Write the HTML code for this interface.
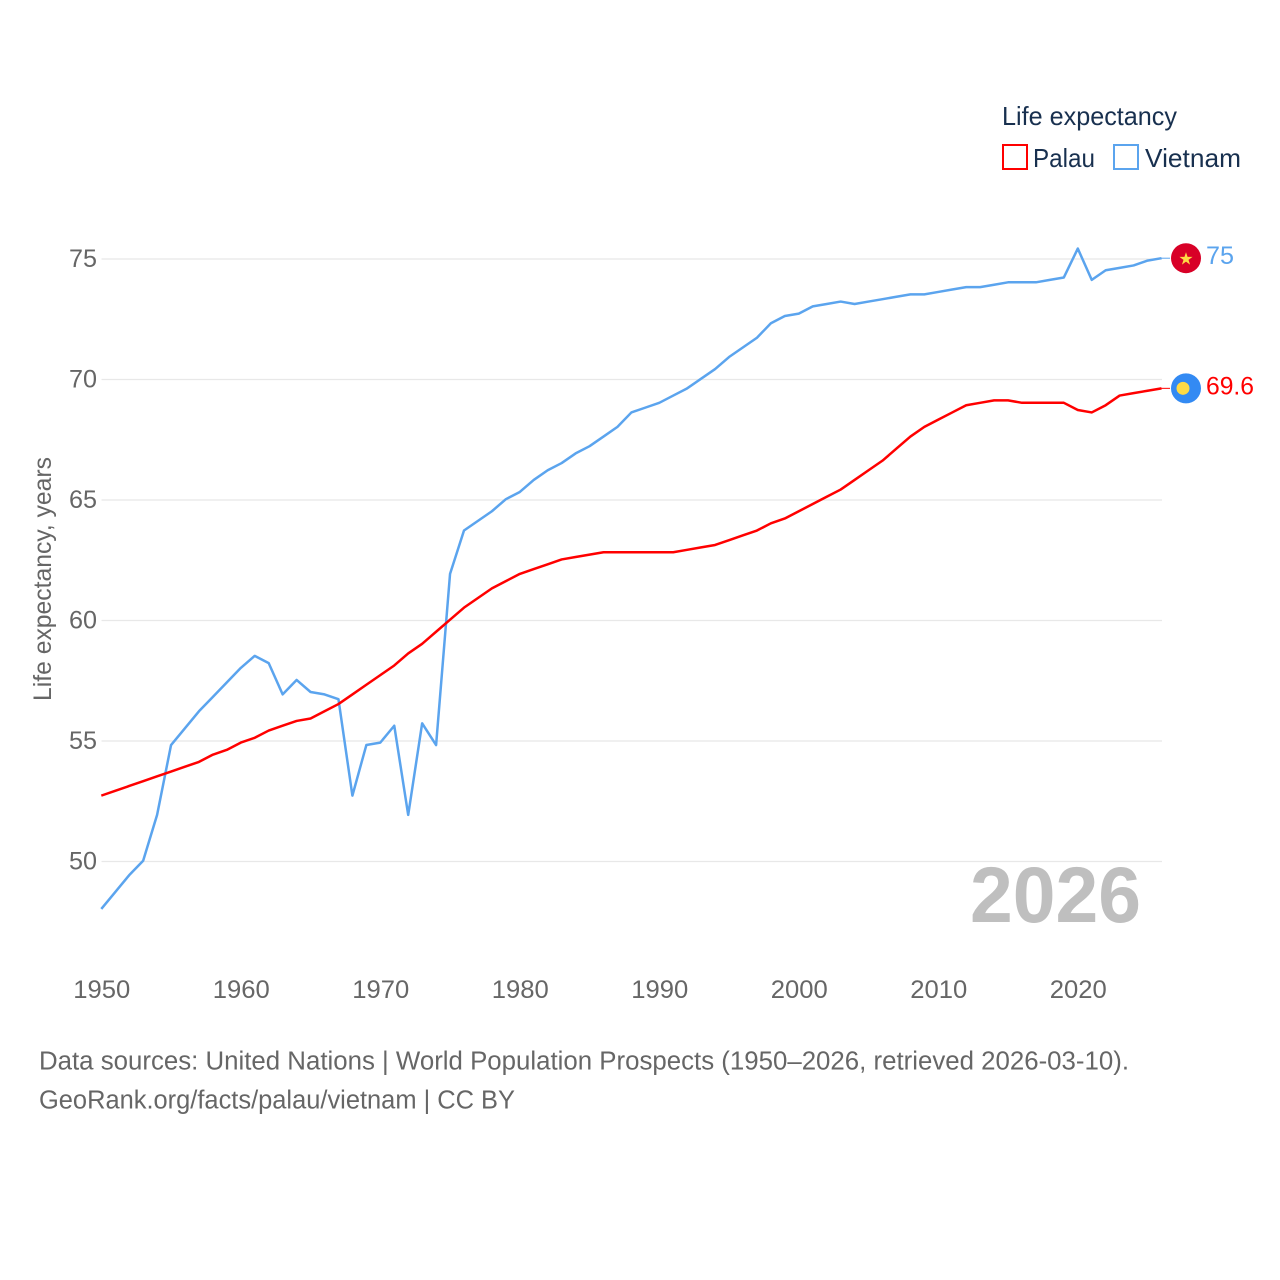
<!DOCTYPE html>
<html lang="en">
<head>
<meta charset="utf-8">
<title>Life expectancy: Palau and Vietnam</title>
<style>
  html, body { margin: 0; padding: 0; background: #fff; }
  svg { display: block; }
  text { font-family: "Liberation Sans", sans-serif; }
</style>
</head>
<body>
<svg id="chart" xmlns="http://www.w3.org/2000/svg" width="1280" height="1280" viewBox="0 0 1280 1280">
  <rect x="0" y="0" width="1280" height="1280" fill="#ffffff"/>
  <g id="grid"></g>
  <g id="y-ticks"></g>
  <g id="x-ticks"></g>
  <text transform="translate(51 701) rotate(-90)" font-size="25" fill="#666666" textLength="244" lengthAdjust="spacingAndGlyphs">Life expectancy, years</text>
  <text x="970" y="922" font-size="79" font-weight="700" fill="#bfbfbf" textLength="171" lengthAdjust="spacingAndGlyphs">2026</text>
  <g id="series"></g>

  <g>
    <text x="1002" y="125" font-size="26" fill="#18304f" textLength="175" lengthAdjust="spacingAndGlyphs">Life expectancy</text>
    <g>
      <rect x="1003" y="145" width="24" height="24" fill="#ffffff" stroke="#ff0000" stroke-width="2"/>
      <text x="1033" y="167" font-size="26" fill="#18304f" textLength="62" lengthAdjust="spacingAndGlyphs">Palau</text>
    </g>
    <g>
      <rect x="1114" y="145" width="24" height="24" fill="#ffffff" stroke="#5ba4ee" stroke-width="2"/>
      <text x="1145" y="167" font-size="26" fill="#18304f" textLength="96" lengthAdjust="spacingAndGlyphs">Vietnam</text>
    </g>
  </g>

  <g id="end-markers"></g>

  <g>
    <text x="39" y="1069.5" font-size="25.5" fill="#666666" textLength="1090" lengthAdjust="spacingAndGlyphs">Data sources: United Nations | World Population Prospects (1950–2026, retrieved 2026-03-10).</text>
    <text x="39" y="1108.5" font-size="25.5" fill="#666666" textLength="476" lengthAdjust="spacingAndGlyphs">GeoRank.org/facts/palau/vietnam | CC BY</text>
  </g>
</svg>
<script>
const startYear = 1950;
const xTickYears = [1950, 1960, 1970, 1980, 1990, 2000, 2010, 2020];
const yTickValues = [50, 55, 60, 65, 70, 75];
const palauValues = [
  52.7, 52.9, 53.1, 53.3, 53.5, 53.7, 53.9, 54.1, 54.4, 54.6,
  54.9, 55.1, 55.4, 55.6, 55.8, 55.9, 56.2, 56.5, 56.9, 57.3,
  57.7, 58.1, 58.6, 59.0, 59.5, 60.0, 60.5, 60.9, 61.3, 61.6,
  61.9, 62.1, 62.3, 62.5, 62.6, 62.7, 62.8, 62.8, 62.8, 62.8,
  62.8, 62.8, 62.9, 63.0, 63.1, 63.3, 63.5, 63.7, 64.0, 64.2,
  64.5, 64.8, 65.1, 65.4, 65.8, 66.2, 66.6, 67.1, 67.6, 68.0,
  68.3, 68.6, 68.9, 69.0, 69.1, 69.1, 69.0, 69.0, 69.0, 69.0,
  68.7, 68.6, 68.9, 69.3, 69.4, 69.5, 69.6
];
const vietnamValues = [
  48.0, 48.7, 49.4, 50.0, 51.9, 54.8, 55.5, 56.2, 56.8, 57.4,
  58.0, 58.5, 58.2, 56.9, 57.5, 57.0, 56.9, 56.7, 52.7, 54.8,
  54.9, 55.6, 51.9, 55.7, 54.8, 61.9, 63.7, 64.1, 64.5, 65.0,
  65.3, 65.8, 66.2, 66.5, 66.9, 67.2, 67.6, 68.0, 68.6, 68.8,
  69.0, 69.3, 69.6, 70.0, 70.4, 70.9, 71.3, 71.7, 72.3, 72.6,
  72.7, 73.0, 73.1, 73.2, 73.1, 73.2, 73.3, 73.4, 73.5, 73.5,
  73.6, 73.7, 73.8, 73.8, 73.9, 74.0, 74.0, 74.0, 74.1, 74.2,
  75.4, 74.1, 74.5, 74.6, 74.7, 74.9, 75.0
];

const SVGNS = 'http://www.w3.org/2000/svg';
const xAxis = year => 101.3 + (year - 1950) * 13.95;
const yAxis = value => 861.5 - (value - 50) * 24.1;
const markY = value => yAxis(value) - 0.8;

function make(tag, parent, attrs) {
  const el = document.createElementNS(SVGNS, tag);
  Object.keys(attrs).forEach(k => el.setAttribute(k, attrs[k]));
  parent.appendChild(el);
  return el;
}

const gridGroup = document.getElementById('grid');
const yTickGroup = document.getElementById('y-ticks');
yTickValues.forEach(v => {
  const line = make('line', gridGroup, { x1: 101.5, x2: 1162, y1: yAxis(v), y2: yAxis(v), stroke: '#e8e8e8', 'stroke-width': 1.3 });
  
  
  const label = make('text', yTickGroup, { x: 97, y: yAxis(v) + 8, 'text-anchor': 'end', 'font-size': 25, fill: '#666666', textLength: 28, lengthAdjust: 'spacingAndGlyphs' });
  
  
  label.textContent = v;
});

const xTickGroup = document.getElementById('x-ticks');
xTickYears.forEach(y => {
  const label = make('text', xTickGroup, { x: xAxis(y) + 0.5, y: 998, 'text-anchor': 'middle', 'font-size': 25, fill: '#666666', textLength: 57, lengthAdjust: 'spacingAndGlyphs' });
  
  
  label.textContent = y;
});

function toPoints(values) {
  return values.map((v, i) => xAxis(startYear + i).toFixed(2) + ',' + markY(v).toFixed(2)).join(' ');
}

const seriesGroup = document.getElementById('series');
const vietnamLine = make('polyline', seriesGroup, { points: toPoints(vietnamValues), fill: 'none', stroke: '#5ba4ee', 'stroke-width': 2.5, 'stroke-linejoin': 'round' });


const palauLine = make('polyline', seriesGroup, { points: toPoints(palauValues), fill: 'none', stroke: '#ff0000', 'stroke-width': 2.5, 'stroke-linejoin': 'round' });



const markerGroup = document.getElementById('end-markers');
const lastVietnam = vietnamValues[vietnamValues.length - 1];
const lastPalau = palauValues[palauValues.length - 1];
const lastX = xAxis(startYear + vietnamValues.length - 1);
const markerX = 1186;

const vnY = markY(lastVietnam);
const pwY = markY(lastPalau);

const vnConnector = make('line', markerGroup, { x1: lastX, x2: 1170, y1: vnY, y2: vnY, stroke: '#5ba4ee', 'stroke-width': 1 });


const pwConnector = make('line', markerGroup, { x1: lastX, x2: 1170, y1: pwY, y2: pwY, stroke: '#ff0000', 'stroke-width': 1 });



const vnFlag = make('circle', markerGroup, { cx: markerX, cy: vnY, r: 15, fill: '#d80027' });


const vnStar = make('text', markerGroup, { x: markerX, y: vnY + 6.5, 'text-anchor': 'middle', 'font-size': 17, fill: '#ffda44', style: 'font-family:"DejaVu Sans",sans-serif' });


vnStar.textContent = '★';
const vnLabel = make('text', markerGroup, { x: 1206, y: vnY + 6, 'font-size': 25, fill: '#5ba4ee', textLength: 28, lengthAdjust: 'spacingAndGlyphs' });


vnLabel.textContent = lastVietnam;

const pwFlag = make('circle', markerGroup, { cx: markerX, cy: pwY, r: 15, fill: '#338af3' });


const pwDisc = make('circle', markerGroup, { cx: markerX - 3, cy: pwY, r: 6.5, fill: '#ffda44' });


const pwLabel = make('text', markerGroup, { x: 1206, y: pwY + 6, 'font-size': 25, fill: '#ff0000', textLength: 48, lengthAdjust: 'spacingAndGlyphs' });


pwLabel.textContent = lastPalau;
</script>
</body>
</html>
